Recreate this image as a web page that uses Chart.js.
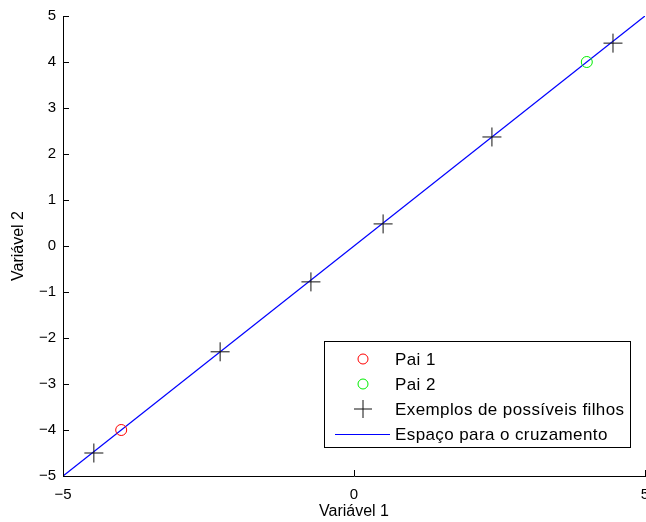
<!DOCTYPE html>
<html>
<head>
<meta charset="utf-8">
<script src="https://cdn.jsdelivr.net/npm/chart.js@4/dist/chart.umd.min.js"></script>
<style>
  html, body { margin: 0; padding: 0; background: #fff; overflow: hidden; }
  #box { width: 660px; height: 522px; }
</style>
</head>
<body>
<div id="box"><canvas id="grafico" width="660" height="522"></canvas></div>
<script>
// dados
var pai1X = [-4.0];
var pai1Y = [-4.0];
var pai2X = [4.0];
var pai2Y = [4.0];
var filhosX = [-4.47, -2.30, -0.74, 0.50, 2.37, 4.45];
var filhosY = [-4.50, -2.30, -0.78, 0.48, 2.37, 4.41];
var linhaX = [-5, 5];
var linhaY = [-5, 5];
var ticksX = [-5, 0, 5];
var ticksY = [-5, -4, -3, -2, -1, 0, 1, 2, 3, 4, 5];
var rotulos = ["Pai 1", "Pai 2", "Exemplos de possíveis filhos", "Espaço para o cruzamento"];

function pontos(xs, ys) {
  var out = [];
  for (var i = 0; i < xs.length; i++) out.push({x: xs[i], y: ys[i]});
  return out;
}
function menos(v) {
  return v < 0 ? '\u2212' + Math.abs(v) : '' + v;
}

var fonte = "'Liberation Sans', Arial, sans-serif";

// marcas de escala para dentro (estilo matlab)
var marcas = {
  id: 'marcas',
  afterDraw: function(chart) {
    var ctx = chart.ctx, a = chart.chartArea;
    var sx = chart.scales.x, sy = chart.scales.y;
    ctx.save();
    ctx.strokeStyle = '#000';
    ctx.lineWidth = 1;
    ctx.beginPath();
    ticksX.forEach(function(v) {
      var px = Math.round(sx.getPixelForValue(v)) + 0.5;
      ctx.moveTo(px, a.bottom);
      ctx.lineTo(px, a.bottom - 6);
    });
    ticksY.forEach(function(v) {
      var py = Math.round(sy.getPixelForValue(v)) + 0.5;
      ctx.moveTo(a.left, py);
      ctx.lineTo(a.left + 6, py);
    });
    ctx.stroke();
    ctx.restore();
  }
};

// legenda dentro do grafico
var legenda = {
  id: 'legenda',
  afterDraw: function(chart) {
    var ctx = chart.ctx, a = chart.chartArea;
    var x0 = a.right - 321, y0 = a.bottom - 135, w = 306, h = 106;
    ctx.save();
    ctx.fillStyle = '#fff';
    ctx.fillRect(x0, y0, w, h);
    ctx.strokeStyle = '#000';
    ctx.lineWidth = 1;
    ctx.strokeRect(x0 + 0.5, y0 + 0.5, w, h);
    ctx.font = '17px ' + fonte;
    ctx.letterSpacing = '0.4px';
    ctx.textBaseline = 'middle';
    ctx.textAlign = 'left';
    var ds = chart.data.datasets;
    for (var i = 0; i < ds.length; i++) {
      var cy = y0 + 18 + i * 25;
      var mx = x0 + 39;
      ctx.strokeStyle = ds[i].borderColor;
      ctx.lineWidth = 1;
      ctx.beginPath();
      if (ds[i].showLine) {
        ctx.moveTo(x0 + 11, cy + 0.5);
        ctx.lineTo(x0 + 66, cy + 0.5);
      } else if (ds[i].pointStyle === 'cross') {
        ctx.moveTo(mx - 9, cy); ctx.lineTo(mx + 9, cy);
        ctx.moveTo(mx, cy - 9); ctx.lineTo(mx, cy + 9);
      } else {
        ctx.arc(mx, cy, 5, 0, Math.PI * 2);
      }
      ctx.stroke();
      ctx.fillStyle = '#000';
      ctx.fillText(ds[i].label, x0 + 71, cy + 1);
    }
    ctx.restore();
  }
};

var ctx = document.getElementById("grafico").getContext("2d");
var grafico = new Chart(ctx, {
  type: 'scatter',
  data: {
    datasets: [
      { label: rotulos[0], data: pontos(pai1X, pai1Y), borderColor: '#ff0000', backgroundColor: 'rgba(0,0,0,0)',
        pointStyle: 'circle', pointRadius: 5.5, borderWidth: 1 },
      { label: rotulos[1], data: pontos(pai2X, pai2Y), borderColor: '#00ee00', backgroundColor: 'rgba(0,0,0,0)',
        pointStyle: 'circle', pointRadius: 5.5, borderWidth: 1 },
      { label: rotulos[2], data: pontos(filhosX, filhosY), borderColor: '#111', backgroundColor: 'rgba(0,0,0,0)',
        pointStyle: 'cross', pointRadius: 9.5, borderWidth: 1 },
      { label: rotulos[3], data: pontos(linhaX, linhaY), borderColor: '#0000ff', backgroundColor: '#0000ff',
        showLine: true, pointRadius: 0, borderWidth: 1.3 }
    ]
  },
  plugins: [marcas, legenda],
  options: {
    responsive: false,
    animation: false,
    events: [],
    layout: { padding: { top: 16, right: 15, left: 0, bottom: 0 } },
    plugins: { legend: { display: false }, tooltip: { enabled: false } },
    scales: {
      x: {
        type: 'linear', min: -5, max: 5,
        afterBuildTicks: function(s) { s.ticks = ticksX.map(function(v) { return {value: v}; }); },
        afterFit: function(s) { s.height = 46; },
        grid: { display: false, drawTicks: false },
        border: { display: true, color: '#000', width: 1 },
        ticks: { color: '#000', font: { size: 15, family: fonte }, padding: 10, maxRotation: 0, callback: menos },
        title: { display: true, text: 'Variável 1', color: '#000', font: { size: 16, family: fonte }, padding: { top: 0, bottom: 1 } }
      },
      y: {
        type: 'linear', min: -5, max: 5,
        afterBuildTicks: function(s) { s.ticks = ticksY.map(function(v) { return {value: v}; }); },
        afterFit: function(s) { s.width = 63; },
        grid: { display: false, drawTicks: false },
        border: { display: true, color: '#000', width: 1 },
        ticks: { color: '#000', font: { size: 15, family: fonte }, padding: 7, callback: menos },
        title: { display: true, text: 'Variável 2', color: '#000', font: { size: 16, family: fonte }, padding: { top: 9, bottom: 0 } }
      }
    }
  }
});
</script>
</body>
</html>
